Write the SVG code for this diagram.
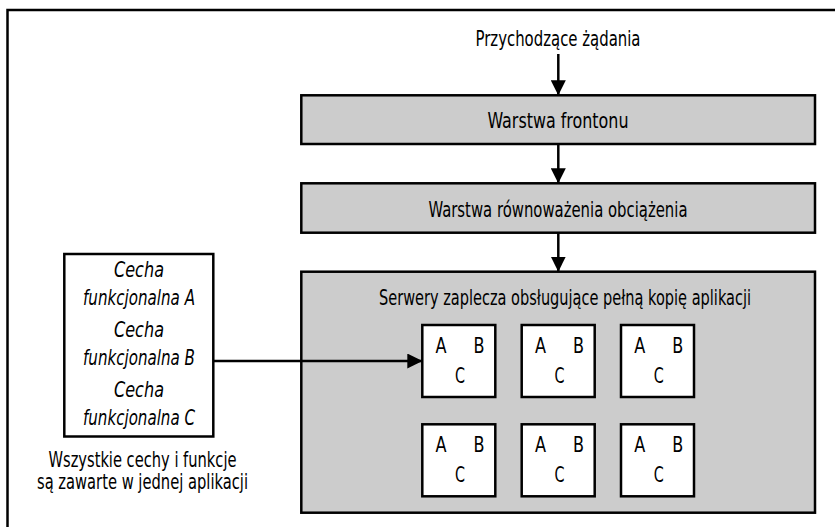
<svg xmlns="http://www.w3.org/2000/svg" width="835" height="527" viewBox="0 0 835 527">
<style>
.t{font-family:"DejaVu Sans Condensed","Liberation Sans",sans-serif;font-size:21px;fill:#000}
.i{font-style:italic}
.m{text-anchor:middle}
.layer{fill:#cccccc;stroke:#000;stroke-width:2.5}
.box{fill:#fff;stroke:#000;stroke-width:2.5}
.ln{fill:none;stroke:#000;stroke-width:2.5}
</style>
<defs>
<marker id="ah" markerUnits="userSpaceOnUse" markerWidth="15" markerHeight="15" refX="15" refY="7.5" orient="auto" viewBox="0 0 15 15">
<path d="M0,0 L15,7.5 L0,15 z" fill="#000"/>
</marker>
<g id="srv">
<rect class="box" x="0" y="0" width="73" height="72"/>
<text class="t m" x="18.7" y="27.7" textLength="11" lengthAdjust="spacingAndGlyphs">A</text>
<text class="t m" x="56.7" y="27.7" textLength="11" lengthAdjust="spacingAndGlyphs">B</text>
<text class="t m" x="37.7" y="58" textLength="10" lengthAdjust="spacingAndGlyphs">C</text>
</g>
</defs>
<polyline id="frame" class="ln" points="7.5,527 7.5,10 835,10" stroke-width="2"/>
<g id="incoming">
<text class="t m" x="558" y="46" textLength="165" lengthAdjust="spacingAndGlyphs">Przychodzące żądania</text>
</g>
<g id="frontend">
<rect class="layer" x="301.3" y="95.3" width="513.7" height="48.7"/>
<text class="t m" x="558" y="128" textLength="141" lengthAdjust="spacingAndGlyphs">Warstwa frontonu</text>
</g>
<g id="loadbalancer">
<rect class="layer" x="301.3" y="183.3" width="513.7" height="49.4"/>
<text class="t m" x="558" y="216.5" textLength="259" lengthAdjust="spacingAndGlyphs">Warstwa równoważenia obciążenia</text>
</g>
<g id="backend">
<rect class="layer" x="301.3" y="271.7" width="513.7" height="241"/>
<text class="t m" x="565" y="305" font-size="19.5" textLength="372" lengthAdjust="spacingAndGlyphs">Serwery zaplecza obsługujące pełną kopię aplikacji</text>
</g>
<g id="server1"><use href="#srv" x="422.3" y="325"/></g>
<g id="server2"><use href="#srv" x="521.7" y="325"/></g>
<g id="server3"><use href="#srv" x="621" y="325"/></g>
<g id="server4"><use href="#srv" x="422.3" y="424.3"/></g>
<g id="server5"><use href="#srv" x="521.7" y="424.3"/></g>
<g id="server6"><use href="#srv" x="621" y="424.3"/></g>
<g id="app">
<rect class="box" x="64.3" y="254" width="149" height="182.5"/>
<text class="t i m" x="139" y="277" textLength="50" lengthAdjust="spacingAndGlyphs">Cecha</text>
<text class="t i m" x="139" y="304.5" textLength="112" lengthAdjust="spacingAndGlyphs">funkcjonalna A</text>
<text class="t i m" x="139" y="336.5" textLength="50" lengthAdjust="spacingAndGlyphs">Cecha</text>
<text class="t i m" x="139" y="364.5" textLength="112" lengthAdjust="spacingAndGlyphs">funkcjonalna B</text>
<text class="t i m" x="139" y="396.5" textLength="50" lengthAdjust="spacingAndGlyphs">Cecha</text>
<text class="t i m" x="139" y="424.5" textLength="112" lengthAdjust="spacingAndGlyphs">funkcjonalna C</text>
</g>
<g id="app-caption">
<text class="t m" x="142.5" y="466.5" textLength="188" lengthAdjust="spacingAndGlyphs">Wszystkie cechy i funkcje</text>
<text class="t m" x="142.5" y="489" textLength="211" lengthAdjust="spacingAndGlyphs">są zawarte w jednej aplikacji</text>
</g>
<g id="connectors">
<line class="ln" x1="558.3" y1="54" x2="558.3" y2="95.3" marker-end="url(#ah)"/>
<line class="ln" x1="558.3" y1="144" x2="558.3" y2="183.3" marker-end="url(#ah)"/>
<line class="ln" x1="558.3" y1="232.7" x2="558.3" y2="271.7" marker-end="url(#ah)"/>
<line class="ln" x1="213.3" y1="361" x2="422.3" y2="361" marker-end="url(#ah)"/>
</g>
</svg>
